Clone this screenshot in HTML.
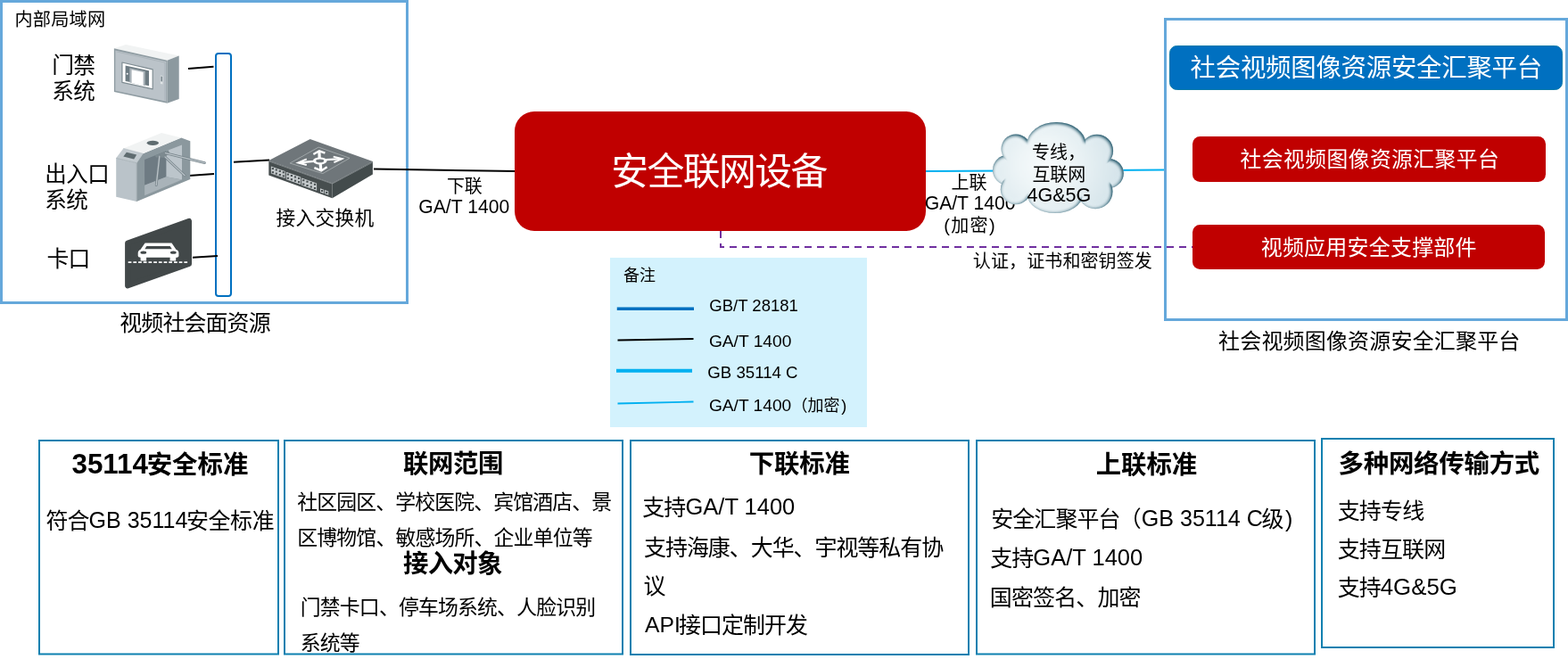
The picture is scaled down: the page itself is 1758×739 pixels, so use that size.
<!DOCTYPE html>
<html lang="zh-CN">
<head>
<meta charset="utf-8">
<title>安全联网设备</title>
<style>
html,body{margin:0;padding:0;background:#fff;}
body{width:1758px;height:739px;overflow:hidden;position:relative;font-family:"Liberation Sans","Noto Sans CJK SC",sans-serif;color:#000;}
svg{position:absolute;left:0;top:0;display:block;will-change:transform;}
text{font-family:"Liberation Sans","Noto Sans CJK SC",sans-serif;fill:#000;}
.w{fill:#fff;}
.b{font-weight:bold;}
.m{text-anchor:middle;}
</style>
</head>
<body>
<svg width="1758" height="739" viewBox="0 0 1758 739">
<defs>
<radialGradient id="cfill" gradientUnits="userSpaceOnUse" cx="1172" cy="185" r="85">
<stop offset="0" stop-color="#fafcfd"/>
<stop offset="0.4" stop-color="#eef5f7"/>
<stop offset="1" stop-color="#d6e5eb"/>
</radialGradient>
<filter id="lobef" x="-20%" y="-20%" width="140%" height="140%" color-interpolation-filters="sRGB">
<feGaussianBlur in="SourceAlpha" stdDeviation="2.3" result="b1"/>
<feOffset in="b1" dx="-0.9" dy="0.5" result="b1o"/>
<feComposite in="SourceAlpha" in2="b1o" operator="out" result="e1"/>
<feComponentTransfer in="e1" result="e1b"><feFuncA type="linear" slope="1.7" intercept="0"/></feComponentTransfer>
<feFlood flood-color="#4a7686" flood-opacity="1" result="c1"/>
<feComposite in="c1" in2="e1b" operator="in" result="s1"/>
<feMerge><feMergeNode in="SourceGraphic"/><feMergeNode in="s1"/></feMerge>
</filter>
<filter id="cb" x="-10%" y="-10%" width="120%" height="120%" color-interpolation-filters="sRGB"><feMorphology operator="erode" radius="3.6"/><feGaussianBlur stdDeviation="1.6"/></filter>
<clipPath id="cclip"><ellipse cx="1129.9" cy="190.7" rx="17" ry="17"/><ellipse cx="1243.3" cy="194.4" rx="16.5" ry="16.5"/><ellipse cx="1138.8" cy="212.3" rx="17" ry="17"/><ellipse cx="1228" cy="214.8" rx="19.5" ry="19.5"/><ellipse cx="1139" cy="167" rx="16.5" ry="16.5"/><ellipse cx="1229.8" cy="169" rx="18.3" ry="18.3"/><ellipse cx="1182.8" cy="218.5" rx="31" ry="20.5"/><ellipse cx="1184.4" cy="161.5" rx="33" ry="24.5"/><ellipse cx="1186" cy="191" rx="50" ry="30"/></clipPath>
</defs>

<!-- containers -->
<rect x="1.5" y="1.5" width="455" height="338" fill="#fff" stroke="#65a8db" stroke-width="3"/>
<rect x="1306.5" y="21.5" width="450" height="337" fill="#fff" stroke="#65a8db" stroke-width="3"/>
<rect x="684" y="289" width="288" height="190" fill="#d3f2fd"/>
<g fill="#fff" stroke="#0d80b0" stroke-width="2">
<rect x="44" y="494" width="268" height="239.5"/>
<rect x="319" y="494" width="379" height="239.5"/>
<rect x="707" y="494" width="379" height="240"/>
<rect x="1095" y="494" width="379" height="239.5"/>
<rect x="1482" y="492" width="260" height="234"/>
</g>

<!-- bus bar -->
<rect x="242" y="60" width="17" height="272" rx="3" ry="3" fill="#fff" stroke="#0070c0" stroke-width="2"/>

<!-- connector lines -->
<g stroke="#000" stroke-width="2" fill="none">
<line x1="211" y1="76.9" x2="239.5" y2="74.7"/>
<line x1="211.6" y1="197" x2="240" y2="194.9"/>
<line x1="216" y1="288.8" x2="244" y2="286.9"/>
<line x1="262" y1="181.7" x2="302" y2="179.6"/>
<line x1="419" y1="189.6" x2="578" y2="192"/>
</g>

<!-- ICONS -->
<g id="door">
<polygon points="127.9,54.3 141.1,50.1 200.7,62.5 187.5,67.7" fill="#f1f3f3"/>
<polygon points="187.5,67.7 200.7,62.5 200.7,111.0 187.5,115.7" fill="#8c999f"/>
<polygon points="127.9,54.3 187.5,67.7 187.5,115.7 127.9,103.1" fill="#8f9ca2"/>
<polygon points="129.3,56.4 186.3,69.1 186.3,113.8 129.3,101.8" fill="#bbc3c9"/>
<polyline points="130.6,57.9 184.9,70.1 184.9,112.6" fill="none" stroke="#a3adb3" stroke-width="0.7"/>
<polygon points="136.9,70.0 171.2,77.9 171.2,99.9 136.9,92.3" fill="#fff" stroke="#7f8c92" stroke-width="1.2" stroke-linejoin="round"/>
<polygon points="140.6,73.5 167.0,79.3 167.0,96.2 140.6,91.0" fill="#6d7b82"/>
<polygon points="145.3,76.2 162.7,79.9 162.7,96.2 145.3,92.5" fill="#aab3b9"/>
<polygon points="147.6,78.3 160.6,81.1 160.6,95.9 147.6,92.7" fill="#fff"/>
<circle cx="142.7" cy="82.8" r="1" fill="#fff"/>
<polygon points="179.9,84.4 182.5,84.9 182.5,94.4 179.9,93.9" fill="#dfe4e6"/>
<polygon points="180.5,85.4 181.9,85.7 181.9,91.5 180.5,91.2" fill="#6d7b82"/>
</g>
<g id="turnstile">
<polygon points="160.3,172.3 203.2,154.5 213.3,158.3 213.3,201.1 153.2,226.1 153.2,182.7" fill="#8b989e"/>
<polygon points="162.1,179.1 186.5,169.2 186.5,198.2 162.1,207.7" fill="#6e7b83"/>
<polygon points="186.5,169.2 204.0,162.5 204.0,201.4 186.5,198.2" fill="#bcc5cb"/>
<polygon points="162.1,207.7 186.5,198.2 204.0,201.4 162.1,219.2" fill="#a9b3b9"/>
<polygon points="138.3,166.4 181.1,149.0 203.2,154.5 160.3,172.3" fill="#f1f3f3"/>
<polygon points="138.3,166.4 160.3,172.3 153.2,182.7 130.2,177.3" fill="#c3cbd0"/>
<polygon points="141.9,170.8 153.2,173.5 150.2,178.5 138.3,175.5" fill="#5f6c70"/>
<polygon points="130.2,177.3 153.2,182.7 153.2,226.1 130.2,220.8" fill="#bac3c9"/>
<polyline points="130.2,177.3 153.2,182.7 153.2,226.1" fill="none" stroke="#99a4aa" stroke-width="0.6"/>
<polyline points="138.3,166.4 160.3,172.3 153.2,182.7" fill="none" stroke="#a9b3b8" stroke-width="0.5"/>
<ellipse cx="171.3" cy="160.3" rx="6.6" ry="2.6" fill="#5f6c70"/>
<polygon points="173.4,174.4 188.9,168.4 190.1,172.0 183.5,176.7 175.2,176.4" fill="#7d8a90"/>
<g stroke="#76838a" stroke-width="2.8" stroke-linecap="round">
<line x1="185.3" y1="171.6" x2="229.4" y2="182.6"/>
<line x1="185.0" y1="175.9" x2="207.1" y2="196.7"/>
<line x1="178.8" y1="175.2" x2="175.2" y2="207.7"/>
</g>
<g stroke="#b9c2c7" stroke-width="1.3" stroke-linecap="round">
<line x1="185.3" y1="171.6" x2="229.4" y2="182.6"/>
<line x1="185.0" y1="175.9" x2="207.1" y2="196.7"/>
<line x1="178.8" y1="175.2" x2="175.2" y2="207.7"/>
</g>
</g>
<g id="car">
<polygon points="143.1,272.5 212.0,247.9 212.0,295.9 143.1,320.4" fill="#424849" stroke="#424849" stroke-width="6.0" stroke-linejoin="round"/>
<path d="M162.6 272.6L192.5 272.6L197.6 279.9Q200.4 280.8 200.4 283.8L200.4 286.9Q200.4 288.7 197.3 288.7L197.1 292.4L190.6 292.4L190.6 288.7L164.1 288.7L164.1 292.4L157.7 292.4L157.5 288.7Q154.7 288.7 154.7 286.9L154.7 283.8Q154.7 280.8 157.4 279.9Z" fill="#fff"/>
<polygon points="164.4,275.9 190.6,275.9 192.8,279.2 162.3,279.2" fill="#424849"/>
<ellipse cx="160.8" cy="283.2" rx="3.4" ry="1.6" fill="#424849"/>
<ellipse cx="194.3" cy="283.2" rx="3.4" ry="1.6" fill="#424849"/>
<line x1="143.7" y1="294.2" x2="211.5" y2="294.2" stroke="#fff" stroke-width="1.8" stroke-dasharray="3.7 2"/>
</g>
<g id="switch">
<polygon points="301.3,180.1 347.7,156.0 417.9,181.1 372.5,205.4" fill="#6f767a"/>
<polygon points="301.3,180.1 372.5,205.4 372.5,222.3 301.3,196.4" fill="#474e4f"/>
<polygon points="372.5,205.4 417.9,181.1 417.9,195.4 372.5,222.3" fill="#434b4c"/>
<polyline points="301.3,180.8 372.5,206.1 417.9,181.9" fill="none" stroke="#8a9194" stroke-width="0.8"/>
<polygon points="325.1,183.0 357.1,165.1 392.0,177.3 361.9,194.6" fill="none" stroke="#a3a9ab" stroke-width="0.9" stroke-linejoin="round"/>
<polygon points="303.9,186.4 319.7,192.0 319.7,200.1 303.9,194.5" fill="#c5cacc"/><rect x="304.8" y="188.1" width="2.2" height="2" fill="#474e50" transform="skewY(0)"/><rect x="308.7" y="189.5" width="2.2" height="2" fill="#474e50" transform="skewY(0)"/><rect x="312.7" y="190.9" width="2.2" height="2" fill="#474e50" transform="skewY(0)"/><rect x="316.7" y="192.3" width="2.2" height="2" fill="#474e50" transform="skewY(0)"/><rect x="304.8" y="192.2" width="2.2" height="2" fill="#474e50" transform="skewY(0)"/><rect x="308.7" y="193.6" width="2.2" height="2" fill="#474e50" transform="skewY(0)"/><rect x="312.7" y="195.0" width="2.2" height="2" fill="#474e50" transform="skewY(0)"/><rect x="316.7" y="196.4" width="2.2" height="2" fill="#474e50" transform="skewY(0)"/><polygon points="320.8,192.7 337.2,198.5 337.2,207.0 320.8,201.2" fill="#c5cacc"/><rect x="321.7" y="194.6" width="2.2" height="2" fill="#474e50" transform="skewY(0)"/><rect x="325.8" y="196.0" width="2.2" height="2" fill="#474e50" transform="skewY(0)"/><rect x="329.9" y="197.5" width="2.2" height="2" fill="#474e50" transform="skewY(0)"/><rect x="334.0" y="198.9" width="2.2" height="2" fill="#474e50" transform="skewY(0)"/><rect x="321.7" y="198.8" width="2.2" height="2" fill="#474e50" transform="skewY(0)"/><rect x="325.8" y="200.2" width="2.2" height="2" fill="#474e50" transform="skewY(0)"/><rect x="329.9" y="201.7" width="2.2" height="2" fill="#474e50" transform="skewY(0)"/><rect x="334.0" y="203.1" width="2.2" height="2" fill="#474e50" transform="skewY(0)"/><polygon points="338.2,199.4 355.1,205.4 355.1,213.8 338.2,207.8" fill="#c5cacc"/><rect x="339.2" y="201.2" width="2.2" height="2" fill="#474e50" transform="skewY(0)"/><rect x="343.4" y="202.7" width="2.2" height="2" fill="#474e50" transform="skewY(0)"/><rect x="347.7" y="204.3" width="2.2" height="2" fill="#474e50" transform="skewY(0)"/><rect x="351.9" y="205.8" width="2.2" height="2" fill="#474e50" transform="skewY(0)"/><rect x="339.2" y="205.5" width="2.2" height="2" fill="#474e50" transform="skewY(0)"/><rect x="343.4" y="207.0" width="2.2" height="2" fill="#474e50" transform="skewY(0)"/><rect x="347.7" y="208.5" width="2.2" height="2" fill="#474e50" transform="skewY(0)"/><rect x="351.9" y="210.0" width="2.2" height="2" fill="#474e50" transform="skewY(0)"/><polygon points="359.0,211.2 363.2,212.7 363.2,216.9 359.0,215.4" fill="#c5cacc"/><rect x="360.0" y="213.0" width="2.2" height="2" fill="#474e50"/><polygon points="364.1,213.0 368.3,214.5 368.3,218.8 364.1,217.2" fill="#c5cacc"/><rect x="365.1" y="214.9" width="2.2" height="2" fill="#474e50"/>
<g fill="none" stroke="#fff" stroke-linejoin="miter" stroke-linecap="butt">
<path d="M358.2 177.3L357.9 169.7" stroke-width="3.2"/>
<path d="M351.4 173.0L357.9 169.3L364.4 171.6" stroke-width="2.3"/>
<path d="M359.2 183.8L359.9 191.1" stroke-width="3.2"/>
<path d="M352.4 188.1L360.2 191.4L366.7 187.3" stroke-width="2.3"/>
<path d="M351.9 180.8L334.9 182.4" stroke-width="2.2"/>
<path d="M343.8 178.3L334.2 182.5L343.8 185.0" stroke-width="1.9"/>
<path d="M365.5 179.1L383.1 178.2" stroke-width="2.2"/>
<path d="M373.7 175.6L383.6 178.1L374.4 182.1" stroke-width="1.9"/>
</g>
<ellipse cx="358.7" cy="180.4" rx="7.8" ry="4" fill="#fff"/>
<ellipse cx="358.7" cy="180.4" rx="4.5" ry="1.8" fill="#6f767a"/>
</g>


<!-- uplink line -->
<line x1="1037" y1="192" x2="1305" y2="190.5" stroke="#00b0f0" stroke-width="2"/>

<!-- center red box -->
<rect x="577" y="125" width="461" height="134" rx="22" ry="22" fill="#c00000"/>

<!-- right bars -->
<rect x="1311.5" y="51.5" width="440" height="49" rx="8" ry="8" fill="#0070c0" stroke="#0b7aa9" stroke-width="1"/>
<rect x="1337" y="153" width="396" height="51" rx="8.5" ry="8.5" fill="#c00000"/>
<rect x="1337" y="252" width="395" height="50" rx="8.5" ry="8.5" fill="#c00000"/>

<!-- legend lines -->
<line x1="691.75" y1="346.25" x2="778" y2="346.25" stroke="#0070c0" stroke-width="3.5"/>
<line x1="692.5" y1="381.5" x2="777.5" y2="380" stroke="#000" stroke-width="2"/>
<line x1="691" y1="415.75" x2="776" y2="415.75" stroke="#00b0f0" stroke-width="4"/>
<line x1="692.5" y1="452.5" x2="777.5" y2="450.5" stroke="#00b0f0" stroke-width="1.8"/>

<!-- texts -->
<text x="16.50" font-size="20.2" letter-spacing="0.163" y="29.27">内部局域网</text>
<text x="58.30" font-size="24.84" letter-spacing="-0.840" y="82.35">门禁</text>
<text x="58.20" font-size="24.6" letter-spacing="-0.600" y="111.45">系统</text>
<text x="50.33" font-size="24.48" letter-spacing="-0.480" y="203.65">出入口</text>
<text x="50.25" font-size="24.6" letter-spacing="-0.600" y="233.05">系统</text>
<text x="52.45" font-size="24.84" letter-spacing="-0.840" y="299.20">卡口</text>
<text x="309.50" font-size="21.78" letter-spacing="0.250" y="252.32">接入交换机</text>
<text x="134.30" font-size="24.96" letter-spacing="-0.892" y="370.65">视频社会面资源</text>
<text x="685.35" font-size="41.8" letter-spacing="-1.570" y="207.22" class="w">安全联网设备</text>
<text x="500.88" font-size="20" y="215.53">下联</text>
<text x="469.28" font-size="21.16" y="238.80">GA/T 1400</text>
<text x="1066.62" font-size="20" y="211.82">上联</text>
<text x="1036.68" font-size="21.16" y="235.00">GA/T 1400</text>
<text x="1058.15" font-size="20" letter-spacing="1.367" y="259.77">(加密)</text>
<text x="1090.80" font-size="20" letter-spacing="0.117" y="300.00">认证，证书和密钥签发</text>
<text x="699.00" font-size="18" y="315.38">备注</text>
<text x="795.31" font-size="18.54" y="348.80">GB/T 28181</text>
<text x="794.88" font-size="19.19" y="388.80">GA/T 1400</text>
<text x="793.25" font-size="18.67" y="423.75">GB 35114 C</text>
<text ><tspan x="794.90" font-size="19.17" y="460.75">GA/T 1400</tspan><tspan x="887.50" font-size="18" y="460.75">（加密</tspan><tspan x="943.27" font-size="18" y="460.75">)</tspan></text>
<text x="1334.55" font-size="28.42" letter-spacing="-0.235" y="86.12" class="w">社会视频图像资源安全汇聚平台</text>
<text x="1390.55" font-size="23.76" letter-spacing="0.473" y="186.93" class="w">社会视频图像资源汇聚平台</text>
<text x="1413.70" font-size="24" letter-spacing="0.211" y="285.75" class="w">视频应用安全支撑部件</text>
<text x="1366.05" font-size="24" letter-spacing="0.177" y="391.12">社会视频图像资源安全汇聚平台</text>
<text  font-weight="bold"><tspan x="80.47" font-size="31.39" y="530.85">35114</tspan><tspan x="164.65" font-size="28.42" y="531.35" letter-spacing="0.033">安全标准</tspan></text>
<text ><tspan x="51.53" font-size="24.96" y="592.75" letter-spacing="-0.960">符合</tspan><tspan x="99.55" font-size="25.05" y="591.55">GB 35114</tspan><tspan x="208.95" font-size="24.96" y="592.75" letter-spacing="-0.367">安全标准</tspan></text>
<text x="451.95" font-size="28.42" letter-spacing="-0.400" y="529.55" font-weight="bold">联网范围</text>
<text x="333.25" font-size="22.88" letter-spacing="-0.867" y="571.42">社区园区、学校医院、宾馆酒店、景</text>
<text x="333.25" font-size="22.88" letter-spacing="-0.843" y="611.00">区博物馆、敏感场所、企业单位等</text>
<text x="452.00" font-size="28.42" letter-spacing="-0.750" y="642.38" font-weight="bold">接入对象</text>
<text x="336.75" font-size="22.88" letter-spacing="-0.839" y="689.25">门禁卡口、停车场系统、人脸识别</text>
<text x="336.68" font-size="22.88" letter-spacing="-0.880" y="729.25">系统等</text>
<text x="839.75" font-size="28.42" letter-spacing="-0.167" y="530.12" font-weight="bold">下联标准</text>
<text ><tspan x="720.23" font-size="24.96" y="577.95" letter-spacing="-0.960">支持</tspan><tspan x="768.52" font-size="25.47" y="576.75">GA/T 1400</tspan></text>
<text x="722.10" font-size="24.96" letter-spacing="-1.027" y="623.47">支持海康、大华、宇视等私有协</text>
<text x="721.42" font-size="24.96" y="665.62">议</text>
<text ><tspan x="723.00" font-size="24.7" y="708.92">API</tspan><tspan x="761.05" font-size="24.96" y="710.12" letter-spacing="-0.960">接口定制开发</tspan></text>
<text x="1228.75" font-size="28.42" letter-spacing="-0.083" y="531.38" font-weight="bold">上联标准</text>
<text ><tspan x="1111.25" font-size="24.96" y="591.30" letter-spacing="-0.900">安全汇聚平台</tspan><tspan x="1254.75" font-size="24.96" y="591.30">（</tspan><tspan x="1279.74" font-size="25.08" y="590.10">GB 35114 C</tspan><tspan x="1414.62" font-size="24.96" y="591.30">级</tspan><tspan x="1441.10" font-size="24.96" y="591.30">)</tspan></text>
<text ><tspan x="1110.18" font-size="24.96" y="635.35" letter-spacing="-0.960">支持</tspan><tspan x="1158.32" font-size="25.53" y="634.15">GA/T 1400</tspan></text>
<text x="1109.80" font-size="24.96" letter-spacing="-0.833" y="679.02">国密签名、加密</text>
<text x="1500.50" font-size="28.42" letter-spacing="-0.214" y="529.92" font-weight="bold">多种网络传输方式</text>
<text x="1499.70" font-size="24.96" letter-spacing="-0.800" y="582.35">支持专线</text>
<text x="1499.70" font-size="24.96" letter-spacing="-0.838" y="624.92">支持互联网</text>
<text ><tspan x="1499.68" font-size="24.96" y="667.85" letter-spacing="-0.960">支持</tspan><tspan x="1547.78" font-size="25.82" y="666.65">4G&amp;5G</tspan></text>

<!-- cloud -->
<g id="cloud">
<ellipse cx="1129.9" cy="190.7" rx="17" ry="17" fill="url(#cfill)" filter="url(#lobef)"/>
<ellipse cx="1243.3" cy="194.4" rx="16.5" ry="16.5" fill="url(#cfill)" filter="url(#lobef)"/>
<ellipse cx="1138.8" cy="212.3" rx="17" ry="17" fill="url(#cfill)" filter="url(#lobef)"/>
<ellipse cx="1228" cy="214.8" rx="19.5" ry="19.5" fill="url(#cfill)" filter="url(#lobef)"/>
<ellipse cx="1139" cy="167" rx="16.5" ry="16.5" fill="url(#cfill)" filter="url(#lobef)"/>
<ellipse cx="1229.8" cy="169" rx="18.3" ry="18.3" fill="url(#cfill)" filter="url(#lobef)"/>
<ellipse cx="1182.8" cy="218.5" rx="31" ry="20.5" fill="url(#cfill)" filter="url(#lobef)"/>
<ellipse cx="1184.4" cy="161.5" rx="33" ry="24.5" fill="url(#cfill)" filter="url(#lobef)"/>
<g filter="url(#cb)" fill="url(#cfill)"><ellipse cx="1129.9" cy="190.7" rx="17" ry="17"/><ellipse cx="1243.3" cy="194.4" rx="16.5" ry="16.5"/><ellipse cx="1138.8" cy="212.3" rx="17" ry="17"/><ellipse cx="1228" cy="214.8" rx="19.5" ry="19.5"/><ellipse cx="1139" cy="167" rx="16.5" ry="16.5"/><ellipse cx="1229.8" cy="169" rx="18.3" ry="18.3"/><ellipse cx="1182.8" cy="218.5" rx="31" ry="20.5"/><ellipse cx="1184.4" cy="161.5" rx="33" ry="24.5"/><ellipse cx="1186" cy="191" rx="50" ry="30"/></g>
</g>
<text x="1156.97" font-size="20" y="178.22">专线，</text>
<text x="1157.38" font-size="20" y="202.73">互联网</text>
<text x="1151.48" font-size="21.5" y="225.70">4G&amp;5G</text>

<!-- dashed -->
<path d="M808 259V277H1337" fill="none" stroke="#7030a0" stroke-width="2" stroke-dasharray="8 6"/>
</svg>
</body>
</html>
